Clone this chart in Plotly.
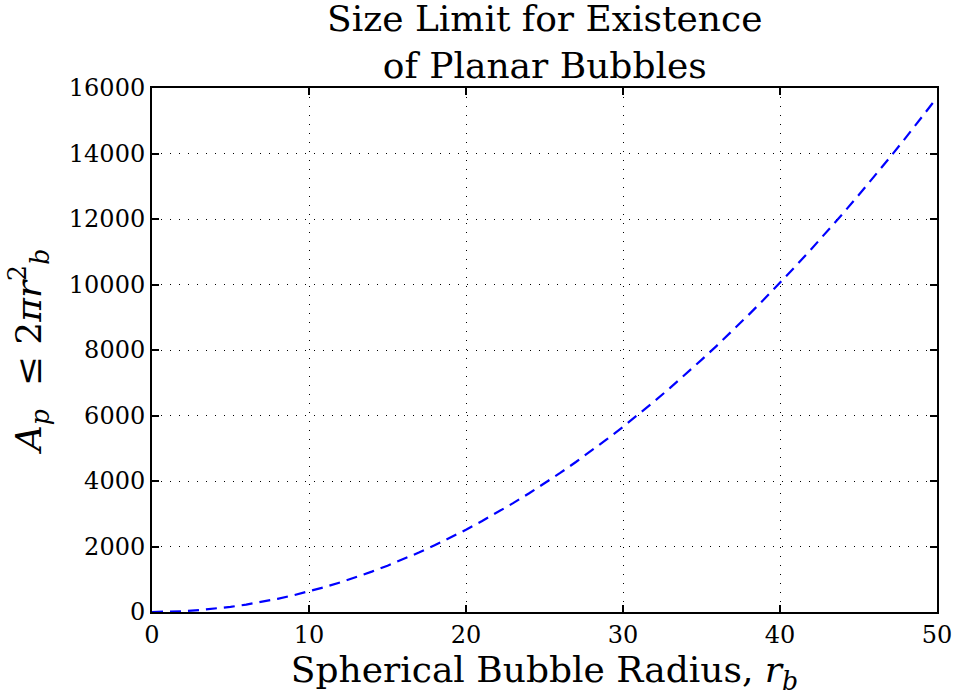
import plotly.graph_objects as go

# Bubble radius r_b and the corresponding planar area limit A_p (2*pi*r_b^2)
radius = list(range(0, 51))
area_limit = [
    0, 6, 25, 57, 101, 157, 226, 308, 402, 509,
    628, 760, 905, 1062, 1232, 1414, 1608, 1816, 2036, 2268,
    2513, 2771, 3041, 3324, 3619, 3927, 4247, 4580, 4926, 5284,
    5655, 6038, 6434, 6842, 7263, 7697, 8143, 8602, 9073, 9557,
    10053, 10562, 11084, 11618, 12164, 12723, 13295, 13880, 14476, 15086,
    15708,
]

x_ticks = [0, 10, 20, 30, 40, 50]
y_ticks = [0, 2000, 4000, 6000, 8000, 10000, 12000, 14000, 16000]

SERIF = "DejaVu Serif"

fig = go.Figure()
fig.add_trace(go.Scatter(
    x=radius, y=area_limit, mode="lines",
    line=dict(color="#0000ff", width=2.2, dash="11px,7px"),
    showlegend=False, hoverinfo="skip",
))

axis_common = dict(
    showline=True, linecolor="black", linewidth=2, mirror="allticks",
    ticks="inside", ticklen=7, tickwidth=1.5, tickcolor="black",
    showgrid=True, gridcolor="black", gridwidth=1, griddash="1px,8px",
    zeroline=False, automargin=False,
    tickfont=dict(family=SERIF, size=24, color="black"),
)

fig.update_xaxes(
    range=[0, 50], tickvals=x_ticks, ticktext=[str(v) for v in x_ticks],
    title=dict(text="Spherical Bubble Radius, <i>r</i><sub><i>b</i></sub>",
               font=dict(family=SERIF, size=36, color="black"), standoff=14),
    **axis_common,
)
fig.update_yaxes(
    range=[0, 16000], tickvals=y_ticks, ticktext=[str(v) for v in y_ticks],
    title=dict(text="<i>A</i><sub><i>p</i></sub>  ≤ 2<i>πr</i><sup>2</sup><sub><i>b</i></sub>",
               font=dict(family=SERIF, size=36, color="black"), standoff=16),
    **axis_common,
)

fig.update_layout(
    width=953, height=696,
    margin=dict(l=152, r=16, t=88, b=84),
    paper_bgcolor="white", plot_bgcolor="white",
    annotations=[dict(
        text="Size Limit for Existence<br>of Planar Bubbles",
        font=dict(family=SERIF, size=36, color="black"),
        xref="paper", yref="paper", x=0.5, y=1.0,
        xanchor="center", yanchor="bottom", yshift=0,
        showarrow=False, align="center",
    )],
)

fig.write_html("out.html")
